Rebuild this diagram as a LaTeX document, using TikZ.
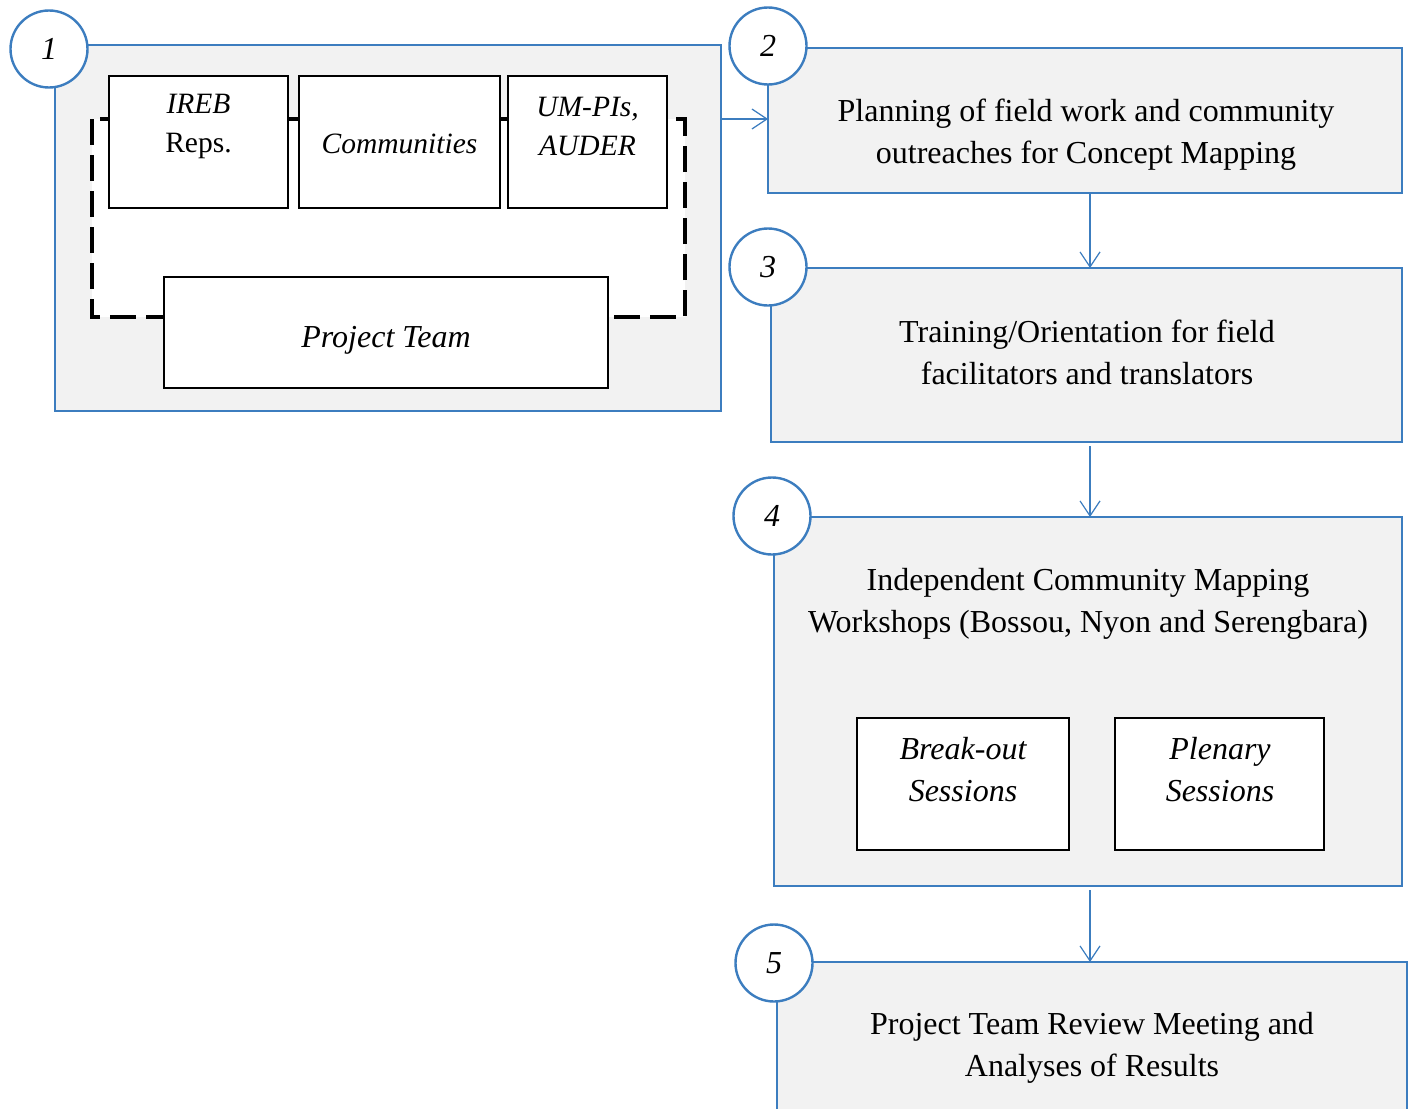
\documentclass[tikz,border=0pt]{standalone}
\usepackage{fontspec}
\setmainfont{Liberation Serif}
\usetikzlibrary{arrows.meta}
\definecolor{stepblue}{HTML}{3C7DBF}
\definecolor{boxgrey}{HTML}{F2F2F2}
\tikzset{
  stagebox/.style={draw=stepblue, line width=1.3pt, fill=boxgrey},
  numcirc/.style={circle, draw=stepblue, line width=2.4pt, fill=white, minimum size=77pt, inner sep=0pt, font=\fontsize{32}{38}\selectfont\itshape},
  innerbox/.style={draw=black, line width=1.2pt, fill=white},
  lbl/.style={align=center, font=\fontsize{32}{42}\selectfont, inner sep=0pt},
  smalllbl/.style={align=center, font=\fontsize{29.5}{39}\selectfont, inner sep=0pt},
  flow/.style={draw=stepblue, line width=1.2pt, -{Straight Barb[length=15pt,width=20pt,line width=1.2pt]}},
}
\begin{document}
\begin{tikzpicture}[x=1pt,y=-1pt]
\useasboundingbox (0,0) rectangle (1413,1108);
% stage boxes
\draw[stagebox] (55,45) rectangle (721,411);
\coordinate (b1r) at (721,119);
\draw[stagebox] (768,48) rectangle (1402,193);
\coordinate (b2l) at (768,119);
\coordinate (b2b) at (1090,193);
\draw[stagebox] (771,268) rectangle (1402,442);
\coordinate (b3t) at (1090,268);
\coordinate (b3b) at (1090,446);
\draw[stagebox] (774,517) rectangle (1402,886);
\coordinate (b4t) at (1090,517);
\coordinate (b4b) at (1090,890);
\draw[stagebox] (777,962) rectangle (1407,1120);
\coordinate (b5t) at (1090,962);
% dashed group
\draw[black, line width=3.5pt, fill=white, dash pattern=on 26pt off 10pt] (92,119) rectangle (685,317);
% inner boxes
\node[innerbox, minimum width=179pt, minimum height=132pt] (ireb) at (198.5,142) {};
\node[innerbox, minimum width=201pt, minimum height=132pt] (comm) at (399.5,142) {};
\node[innerbox, minimum width=159pt, minimum height=132pt] (umpi) at (587.5,142) {};
\node[innerbox, minimum width=444pt, minimum height=111pt] (pteam) at (386,332.5) {};
\node[smalllbl] (iretxt) at (198.5,126.5) {\itshape IREB\\Reps.};
\node[smalllbl, font=\fontsize{29.5}{39}\selectfont\itshape] (commtxt) at (399.5,144) {Communities};
\node[smalllbl, font=\fontsize{29.5}{39}\selectfont\itshape] (umtxt) at (587.5,126) {UM-PIs,\\AUDER};
\node[lbl, font=\fontsize{32}{42}\selectfont\itshape] (pttxt) at (386,340) {Project Team};
% stage texts
\node[lbl] (t2) at (1086,135) {Planning of field work and community\\outreaches for Concept Mapping};
\node[lbl] (t3) at (1087,352) {Training/Orientation for field\\facilitators and translators};
\node[lbl] (t4) at (1088,604) {Independent Community Mapping\\Workshops (Bossou, Nyon and Serengbara)};
\node[lbl] (t5) at (1092,1048) {Project Team Review Meeting and\\Analyses of Results};
% session boxes
\node[innerbox, minimum width=212pt, minimum height=132pt] (brk) at (963,784) {};
\node[innerbox, minimum width=209pt, minimum height=132pt] (plen) at (1219.5,784) {};
\node[lbl, font=\fontsize{32}{42}\selectfont\itshape] (brktxt) at (963,770) {Break-out\\Sessions};
\node[lbl, font=\fontsize{32}{42}\selectfont\itshape] (plentxt) at (1220,770) {Plenary\\Sessions};
% circles
\node[numcirc] (c1) at (49,49) {1};
\node[numcirc] (c2) at (768,46) {2};
\node[numcirc] (c3) at (768,267) {3};
\node[numcirc] (c4) at (772,516) {4};
\node[numcirc] (c5) at (774,963) {5};
% connectors
\draw[flow] (b1r) -- (b2l);
\draw[flow] (b2b) -- (b3t);
\draw[flow] (b3b) -- (b4t);
\draw[flow] (b4b) -- (b5t);
\end{tikzpicture}
\end{document}
